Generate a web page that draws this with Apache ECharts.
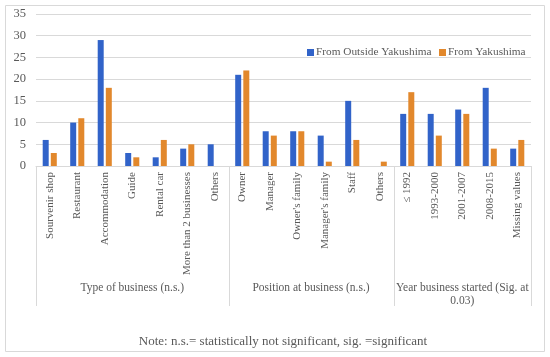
<!DOCTYPE html>
<html><head><meta charset="utf-8">
<script src="https://cdn.jsdelivr.net/npm/echarts@6/dist/echarts.min.js"></script>
<style>html,body{margin:0;padding:0;background:#fff}#c{width:550px;height:357px}</style>
</head><body><div id="c"></div>
<script>
const categories = ["Sourvenir shop","Restaurant","Accommodation","Guide","Rental car","More than 2 businesses","Others","Owner","Manager","Owner's family","Manager's family","Staff","Others","≤ 1992","1993-2000","2001-2007","2008-2015","Missing values"];
const outsideYakushima = [6,10,29,3,2,4,5,21,8,8,7,15,0,12,12,13,18,4];
const fromYakushima = [3,11,18,2,6,5,0,22,7,8,1,6,1,17,7,12,4,6];
const seriesNames = ["From Outside Yakushima","From Yakushima"];
const groupNames = ["Type of business (n.s.)","Position at business (n.s.)","Year business started (Sig. at\n0.03)"];
const groupSizes = [7,6,5];
const yTicks = [0,5,10,15,20,25,30,35];
const noteText = "Note: n.s.= statistically not significant, sig. =significant";

const FONT = "Liberation Serif";
const GRAY = "#595959";
const chart = echarts.init(document.getElementById('c'));
const legendBase = {top:47,padding:0,itemWidth:7,itemHeight:7,icon:'rect',
    textStyle:{fontFamily:FONT,fontSize:11.3,color:GRAY,padding:[0,0,0,-3]}};
const option = {
  animation:false,
  textStyle:{fontFamily:FONT},
  grid:{left:36,right:19,top:14,bottom:191,containLabel:false},
  legend:[Object.assign({left:307,data:[seriesNames[0]]},legendBase),
          Object.assign({left:439,data:[seriesNames[1]]},legendBase)],
  xAxis:{type:'category',data:categories,
    axisLine:{lineStyle:{color:'#d9d9d9'}},axisTick:{show:false},
    axisLabel:{rotate:90,interval:0,fontFamily:FONT,fontSize:11,color:GRAY,margin:6}},
  yAxis:{type:'value',min:yTicks[0],max:yTicks[yTicks.length-1],interval:5,
    axisLine:{show:false},axisTick:{show:false},
    splitLine:{lineStyle:{color:'#d9d9d9'}},
    axisLabel:{fontFamily:FONT,fontSize:12.5,color:GRAY,margin:10}},
  series:[
    {name:seriesNames[0],type:'bar',data:outsideYakushima,barWidth:6,barGap:'35%',itemStyle:{color:'#3163c9'}},
    {name:seriesNames[1],type:'bar',data:fromYakushima,barWidth:6,itemStyle:{color:'#e2882c'}}
  ]
};
chart.setOption(option);

const px = (finder, v) => { const r = chart.convertToPixel(finder, v); return Array.isArray(r) ? r : [r, r]; };
const half = (px({xAxisIndex:0},1)[0]-px({xAxisIndex:0},0)[0])/2;
const yBase = px({yAxisIndex:0},0)[1];
const graphics = [{type:'rect',shape:{x:5.5,y:5.5,width:539,height:346},style:{fill:null,stroke:'#d9d9d9',lineWidth:1},silent:true}];
let start = 0;
const edge = i => px({xAxisIndex:0},i)[0] - half;
const boundaries = [0];
groupSizes.forEach(s=>{start+=s;boundaries.push(start);});
boundaries.forEach(b=>{
  const x = b<categories.length ? edge(b) : edge(b-1)+2*half;
  graphics.push({type:'line',shape:{x1:Math.round(x)+0.5,y1:yBase,x2:Math.round(x)+0.5,y2:yBase+140},style:{stroke:'#d9d9d9',lineWidth:1},silent:true});
});
for(let g=0;g<groupNames.length;g++){
  const a = boundaries[g], b = boundaries[g+1];
  const xa = edge(a), xb = edge(b-1)+2*half;
  graphics.push({type:'text',x:(xa+xb)/2,y:yBase+115,style:{text:groupNames[g],fill:GRAY,font:'11.5px "'+FONT+'"',align:'center',verticalAlign:'top',lineHeight:13},silent:true});
}
graphics.push({type:'text',x:283,y:335,style:{text:noteText,fill:GRAY,font:'13px "'+FONT+'"',align:'center',verticalAlign:'top'},silent:true});
chart.setOption({graphic:graphics});
</script></body></html>
